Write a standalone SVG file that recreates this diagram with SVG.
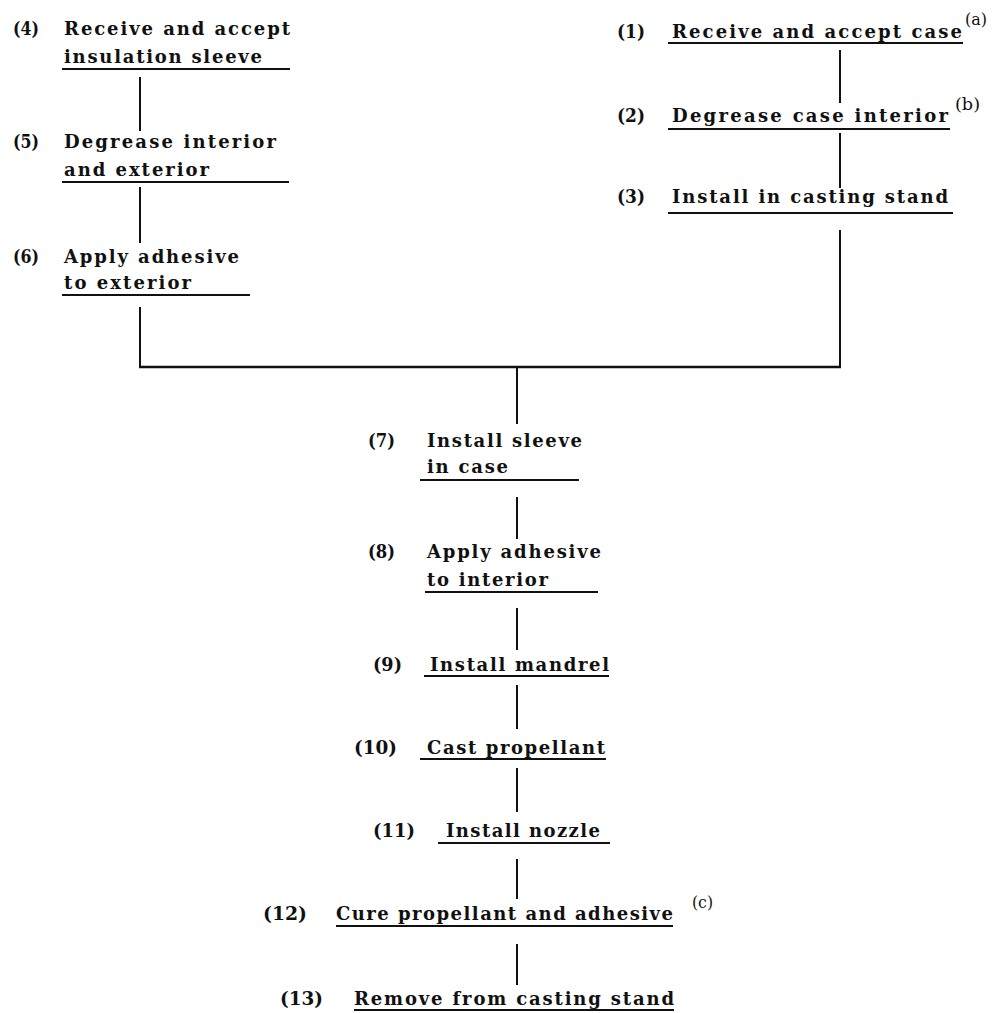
<svg xmlns="http://www.w3.org/2000/svg" width="1001" height="1013" viewBox="0 0 1001 1013">
<style>
text{font-family:"DejaVu Serif","Liberation Serif",serif;font-weight:bold;font-size:18px;fill:#111}
text.sup{font-weight:normal;font-size:17px}
line{stroke:#111;stroke-width:2;stroke-linecap:butt}
line.ul{stroke-width:2}
</style>
<rect width="1001" height="1013" fill="#fff"/>
<g id="connectors">
<line x1="140" y1="77" x2="140" y2="131"/>
<line x1="140" y1="187" x2="140" y2="243"/>
<line x1="140" y1="307" x2="140" y2="368"/>
<line x1="840" y1="50" x2="840" y2="103"/>
<line x1="840" y1="133" x2="840" y2="188"/>
<line x1="840" y1="230" x2="840" y2="368"/>
<line x1="139" y1="367" x2="841" y2="367" style="stroke-width:2.5"/>
<line x1="517" y1="367" x2="517" y2="424"/>
<line x1="517" y1="497" x2="517" y2="539"/>
<line x1="517" y1="608" x2="517" y2="650"/>
<line x1="517" y1="685" x2="517" y2="729"/>
<line x1="517" y1="768" x2="517" y2="812"/>
<line x1="517" y1="859" x2="517" y2="899"/>
<line x1="517" y1="944" x2="517" y2="985"/>
</g>
<g id="node4">
<text x="13" y="35" textLength="26" lengthAdjust="spacingAndGlyphs">(4)</text>
<text x="64" y="35" textLength="226" lengthAdjust="spacing">Receive and accept</text>
<text x="64" y="63" textLength="198" lengthAdjust="spacing">insulation sleeve</text>
<line class="ul" x1="62" y1="69" x2="290" y2="69"/>
</g>
<g id="node5">
<text x="13" y="148" textLength="26" lengthAdjust="spacingAndGlyphs">(5)</text>
<text x="64" y="148" textLength="212" lengthAdjust="spacing">Degrease interior</text>
<text x="64" y="176" textLength="145" lengthAdjust="spacing">and exterior</text>
<line class="ul" x1="62" y1="182" x2="289" y2="182"/>
</g>
<g id="node6">
<text x="13" y="263" textLength="26" lengthAdjust="spacingAndGlyphs">(6)</text>
<text x="64" y="263" textLength="175" lengthAdjust="spacing">Apply adhesive</text>
<text x="64" y="289" textLength="127" lengthAdjust="spacing">to exterior</text>
<line class="ul" x1="62" y1="295" x2="250" y2="295"/>
</g>
<g id="node1">
<text x="617" y="38" textLength="28" lengthAdjust="spacingAndGlyphs">(1)</text>
<text x="672" y="38" textLength="290" lengthAdjust="spacing">Receive and accept case</text>
<text class="sup" x="965" y="25" textLength="22" lengthAdjust="spacingAndGlyphs">(a)</text>
<line class="ul" x1="668" y1="43" x2="963" y2="43"/>
</g>
<g id="node2">
<text x="617" y="122" textLength="28" lengthAdjust="spacingAndGlyphs">(2)</text>
<text x="672" y="122" textLength="276" lengthAdjust="spacing">Degrease case interior</text>
<text class="sup" x="955" y="110" textLength="25" lengthAdjust="spacingAndGlyphs">(b)</text>
<line class="ul" x1="668" y1="129" x2="950" y2="129"/>
</g>
<g id="node3">
<text x="617" y="203" textLength="28" lengthAdjust="spacingAndGlyphs">(3)</text>
<text x="672" y="203" textLength="276" lengthAdjust="spacing">Install in casting stand</text>
<line class="ul" x1="668" y1="213" x2="953" y2="213"/>
</g>
<g id="node7">
<text x="368" y="447" textLength="27" lengthAdjust="spacingAndGlyphs">(7)</text>
<text x="427" y="447" textLength="155" lengthAdjust="spacing">Install sleeve</text>
<text x="427" y="473" textLength="81" lengthAdjust="spacing">in case</text>
<line class="ul" x1="420" y1="480" x2="579" y2="480"/>
</g>
<g id="node8">
<text x="368" y="558" textLength="27" lengthAdjust="spacingAndGlyphs">(8)</text>
<text x="427" y="558" textLength="174" lengthAdjust="spacing">Apply adhesive</text>
<text x="427" y="586" textLength="121" lengthAdjust="spacing">to interior</text>
<line class="ul" x1="425" y1="592" x2="598" y2="592"/>
</g>
<g id="node9">
<text x="373" y="671" textLength="29" lengthAdjust="spacingAndGlyphs">(9)</text>
<text x="430" y="671" textLength="179" lengthAdjust="spacing">Install mandrel</text>
<line class="ul" x1="424" y1="676" x2="609" y2="676"/>
</g>
<g id="node10">
<text x="354" y="754" textLength="43" lengthAdjust="spacingAndGlyphs">(10)</text>
<text x="427" y="754" textLength="178" lengthAdjust="spacing">Cast propellant</text>
<line class="ul" x1="420" y1="759" x2="606" y2="759"/>
</g>
<g id="node11">
<text x="373" y="837" textLength="42" lengthAdjust="spacingAndGlyphs">(11)</text>
<text x="446" y="837" textLength="154" lengthAdjust="spacing">Install nozzle</text>
<line class="ul" x1="438" y1="843" x2="610" y2="843"/>
</g>
<g id="node12">
<text x="263" y="920" textLength="44" lengthAdjust="spacingAndGlyphs">(12)</text>
<text x="336" y="920" textLength="337" lengthAdjust="spacing">Cure propellant and adhesive</text>
<text class="sup" x="692" y="908" textLength="21" lengthAdjust="spacingAndGlyphs">(c)</text>
<line class="ul" x1="336" y1="926" x2="673" y2="926"/>
</g>
<g id="node13">
<text x="280" y="1005" textLength="43" lengthAdjust="spacingAndGlyphs">(13)</text>
<text x="354" y="1005" textLength="320" lengthAdjust="spacing">Remove from casting stand</text>
<line class="ul" x1="354" y1="1010" x2="674" y2="1010"/>
</g>
</svg>
